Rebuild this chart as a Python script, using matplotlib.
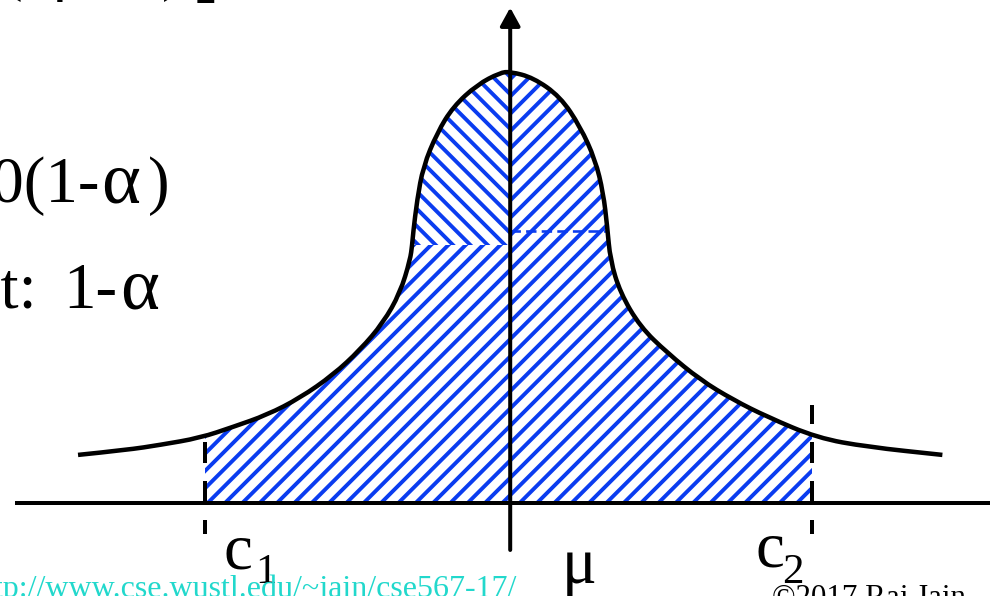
import numpy as np
import matplotlib
matplotlib.use('Agg')
import matplotlib.pyplot as plt
from matplotlib.patches import Rectangle, PathPatch
from matplotlib.path import Path

DPI = 104

plt.rcParams['font.family'] = ['Liberation Serif', 'DejaVu Serif']
plt.rcParams['hatch.linewidth'] = 3.9 * 72.0 / DPI

# curve (pixel space, y grows downward)
curve_x = np.array([78, 127, 160, 200, 233, 267, 300, 333, 360, 383, 400, 410, 412, 413,
                    417, 423, 437, 453, 477, 500, 510, 533, 560, 580, 595, 603, 607, 610,
                    620, 640, 667, 700, 733, 767, 817, 867, 942])
curve_y = np.array([455, 450, 445, 438, 427, 415, 398, 375, 350, 323, 293, 260, 245, 233,
                    200, 167, 133, 107, 85, 73, 72, 78, 97, 127, 160, 193, 227, 260,
                    293, 327, 353, 380, 400, 417, 438, 447, 455])

c1 = 205
c2 = 812
mu = 510
axis_y = 503
left_split = 245    # hatch changes direction here, left of mu
right_split = 231   # dashed boundary, right of mu

blue = '#0a3cf0'

fig = plt.figure(figsize=(998.4 / DPI, 596.4 / DPI), dpi=DPI)
ax = fig.add_axes([0, 0, 1, 1])
ax.set_xlim(0, 998)
ax.set_ylim(596, 0)
ax.axis('off')

def px(v):
    return v * 72.0 / DPI

def smooth_verts(x, y):
    # quadratic bezier through the midpoints, read points used as controls
    verts = [(x[0], y[0])]
    codes = [Path.MOVETO]
    for i in range(1, len(x) - 1):
        verts += [(x[i], y[i]), ((x[i] + x[i + 1]) / 2.0, (y[i] + y[i + 1]) / 2.0)]
        codes += [Path.CURVE3, Path.CURVE3]
    verts.append((x[-1], y[-1]))
    codes.append(Path.LINETO)
    return verts, codes

verts, codes = smooth_verts(curve_x, curve_y)

# region under the curve, used to clip the hatching
under_verts = verts + [(curve_x[-1], axis_y), (curve_x[0], axis_y), (0, 0)]
under_codes = codes + [Path.LINETO, Path.LINETO, Path.CLOSEPOLY]
under = PathPatch(Path(under_verts, under_codes), facecolor='none', edgecolor='none')
ax.add_patch(under)

area = Rectangle((c1, 0), c2 - c1, axis_y, facecolor='white', edgecolor=blue,
                 linewidth=0, hatch='//', zorder=1)
ax.add_patch(area)
area.set_clip_path(under)

top_left = Rectangle((c1, 0), mu - c1, left_split, facecolor='white', edgecolor=blue,
                     linewidth=0, hatch='\\\\', zorder=2)
ax.add_patch(top_left)
top_left.set_clip_path(under)

# dashed boundary on the right
right = curve_x >= mu
xr = np.interp(right_split, curve_y[right], curve_x[right])
ax.plot([mu, xr], [right_split, right_split], color=blue, lw=px(2.6),
        linestyle=(0, (4, 2)), zorder=3)

# curve
ax.add_patch(PathPatch(Path(verts, codes), facecolor='none', edgecolor='black',
                       lw=px(4.5), capstyle='butt', zorder=5))

# axes
ax.plot([15, 990], [axis_y, axis_y], color='black', lw=px(4), solid_capstyle='butt', zorder=6)
ax.annotate('', xy=(mu, 8), xytext=(mu, 550),
            arrowprops=dict(arrowstyle='-|>,head_length=0.4,head_width=0.22',
                            color='black', lw=px(4), mutation_scale=px(38),
                            shrinkA=0, shrinkB=0), zorder=6)

# c1, c2 dashed markers
yc1 = np.interp(c1, curve_x, curve_y)
dash = (1.75, (5.25, 4.5))
ax.plot([c1, c1], [534, yc1], color='black', lw=px(4), linestyle=dash,
        dash_capstyle='butt', zorder=6)
ax.plot([c2, c2], [534, 405], color='black', lw=px(4), linestyle=dash,
        dash_capstyle='butt', zorder=6)

big = px(65)
small = px(43)
ax.text(223, 568, 'c', fontsize=big, ha='left', va='baseline')
ax.text(255, 583, '1', fontsize=small, ha='left', va='baseline')
ax.text(562, 583, '\u03bc', fontsize=big, ha='left', va='baseline')
ax.text(755, 566, 'c', fontsize=big, ha='left', va='baseline')
ax.text(782, 583, '2', fontsize=small, ha='left', va='baseline')

# slide text cut off at the left and top edges
ax.text(99, 202, 'Confidence level: 100(1-', fontsize=big, ha='right', va='baseline')
ax.text(101, 202, '\u03b1', fontsize=px(74), ha='left', va='baseline')
ax.text(148, 202, ')', fontsize=big, ha='left', va='baseline')
ax.text(37, 308, 'Confidence coefficient:', fontsize=big, ha='right', va='baseline')
ax.text(117, 308, '1-', fontsize=big, ha='right', va='baseline')
ax.text(120, 308, '\u03b1', fontsize=px(74), ha='left', va='baseline')

ax.text(0, -12, '(', fontsize=big, ha='left', va='baseline')
ax.text(52, -12, '\u03bc', fontsize=big, ha='left', va='baseline')
ax.text(145, -1, '2', fontsize=small, ha='left', va='baseline')
ax.text(162, -12, ')', fontsize=big, ha='left', va='baseline')
ax.text(195, 16, '-', fontsize=big, ha='left', va='baseline')

# footer
ax.text(517, 597, 'http://www.cse.wustl.edu/~jain/cse567-17/', fontsize=px(32),
        color='#22d8cc', ha='right', va='baseline')
ax.text(772, 606, '\u00a92017 Raj Jain', fontsize=px(31), color='black',
        ha='left', va='baseline')

fig.savefig('out.png', dpi=DPI)
